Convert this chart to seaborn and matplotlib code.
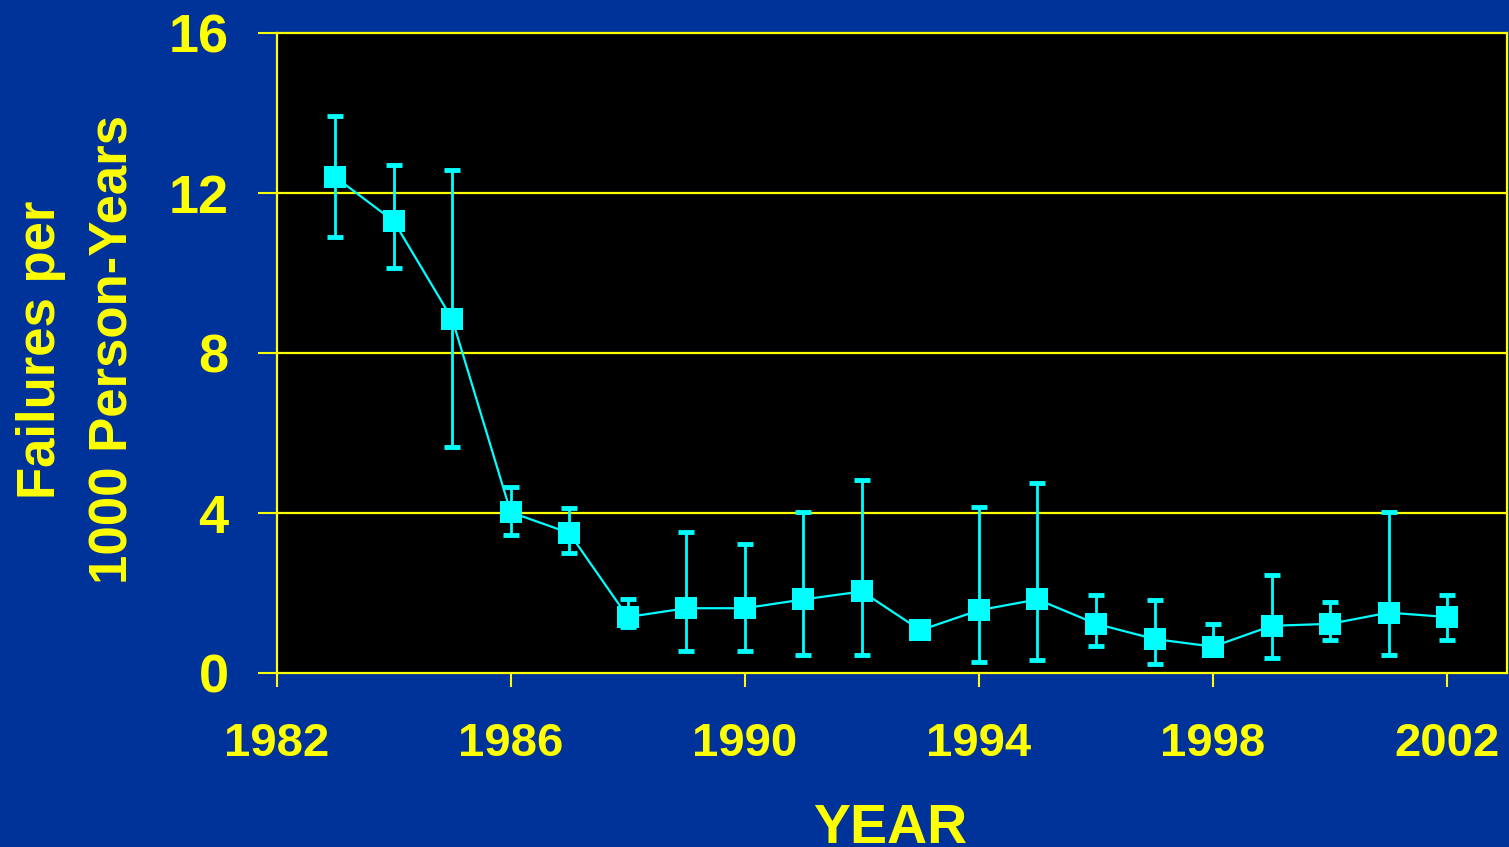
import matplotlib
matplotlib.use("Agg")
import matplotlib.pyplot as plt
import seaborn as sns
import numpy as np

# Annual failure rate per 1000 person-years with confidence limits
years = [1983, 1984, 1985, 1986, 1987, 1988, 1989, 1990, 1991, 1992,
         1993, 1994, 1995, 1996, 1997, 1998, 1999, 2000, 2001, 2002]
rate = [12.4, 11.3, 8.85, 4.02, 3.5, 1.4, 1.62, 1.62, 1.84, 2.04,
        1.07, 1.57, 1.84, 1.23, 0.85, 0.66, 1.18, 1.23, 1.51, 1.4]
ci_low = [10.9, 10.13, 5.66, 3.46, 3.01, 1.15, 0.55, 0.55, 0.44, 0.44,
          0.95, 0.28, 0.33, 0.67, 0.22, 0.45, 0.38, 0.83, 0.44, 0.83]
ci_high = [13.93, 12.69, 12.58, 4.64, 4.13, 1.84, 3.52, 3.23, 4.03, 4.82,
           1.2, 4.14, 4.76, 1.94, 1.83, 1.23, 2.44, 1.78, 4.03, 1.94]

y_ticks = [0, 4, 8, 12, 16]
x_ticks = [1982, 1986, 1990, 1994, 1998, 2002]

BG = "#003399"
YELLOW = "#FFFF00"
CYAN = "#00FFFF"

sns.set_theme(style="dark")
plt.rcParams["font.family"] = ["Liberation Sans", "DejaVu Sans"]

W, H = 1509, 847
fig = plt.figure(figsize=(W / 100, H / 100), dpi=100, facecolor=BG)
ax = fig.add_axes([0.1833, 0.2054, 0.8157, 0.7556])
ax.set_facecolor("black")

rate_a = np.array(rate)
yerr = np.vstack([rate_a - np.array(ci_low), np.array(ci_high) - rate_a])
ax.errorbar(years, rate, yerr=yerr, fmt="none", ecolor=CYAN,
            elinewidth=2, capsize=6, capthick=3.5, zorder=3)

sns.lineplot(x=years, y=rate, ax=ax, color=CYAN, linewidth=1.6,
             marker="s", markersize=16.5, markeredgewidth=0, zorder=4)

ax.set_xlim(1982, 2003.03)
ax.set_ylim(0, 16)
ax.set_xticks(x_ticks)
ax.set_yticks(y_ticks)
ax.set_xticklabels([str(t) for t in x_ticks])
ax.set_yticklabels([str(t) for t in y_ticks])

ax.grid(False)
for v in y_ticks[1:-1]:
    ax.axhline(v, color=YELLOW, linewidth=1.6, zorder=1)

for side in ["left", "right", "top", "bottom"]:
    ax.spines[side].set_visible(True)
    ax.spines[side].set_color(YELLOW)
    ax.spines[side].set_linewidth(1.6)

ax.tick_params(axis="y", colors=YELLOW, length=13.5, width=1.5, pad=21,
               labelsize=39, direction="out", left=True)
ax.tick_params(axis="x", colors=YELLOW, length=10, width=1.5, pad=25,
               labelsize=34, direction="out", bottom=True)
for lbl in ax.get_xticklabels() + ax.get_yticklabels():
    lbl.set_fontweight("bold")
    lbl.set_color(YELLOW)
ax.set_xlabel("")
ax.set_ylabel("")

# Axis titles placed in pixel terms on the figure
fig.text(55 / W, 1 - 350 / H, "Failures per", rotation=90,
         rotation_mode="anchor", ha="center", va="baseline",
         color=YELLOW, fontsize=38, fontweight="bold")
fig.text(128 / W, 1 - 350 / H, "1000 Person-Years", rotation=90,
         rotation_mode="anchor", ha="center", va="baseline",
         color=YELLOW, fontsize=38, fontweight="bold")
fig.text(890 / W, 1 - 843 / H, "YEAR", ha="center", va="baseline",
         color=YELLOW, fontsize=40, fontweight="bold")

fig.savefig("out.png", dpi=100, facecolor=BG)
